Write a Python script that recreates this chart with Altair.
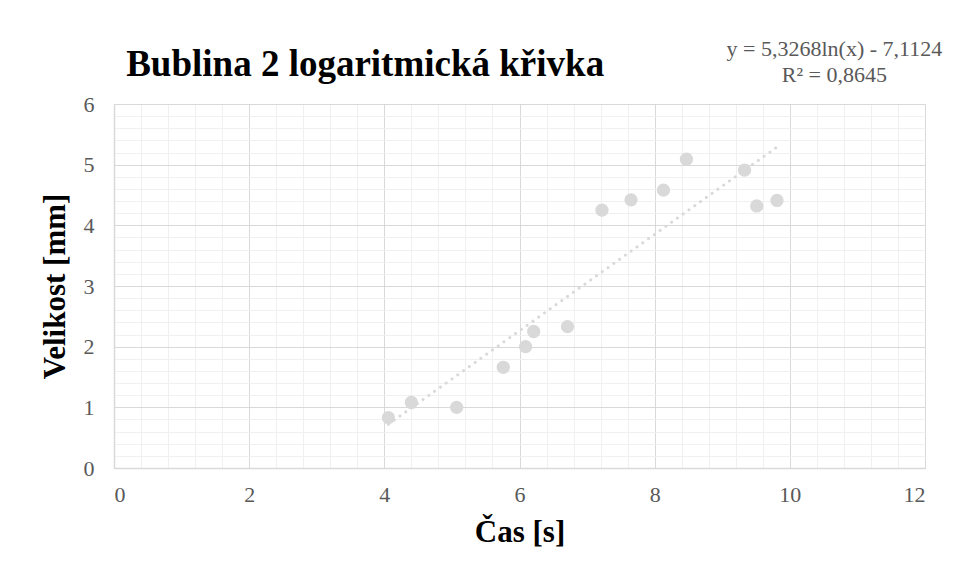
import altair as alt
import pandas as pd

# Data
cas = [4.06, 4.40, 5.07, 5.76, 6.09, 6.21, 6.71, 7.22, 7.65, 8.13, 8.47, 9.33, 9.51, 9.81]
velikost = [0.83, 1.08, 1.00, 1.66, 2.00, 2.25, 2.33, 4.25, 4.42, 4.58, 5.09, 4.91, 4.32, 4.41]

x_major = [0, 2, 4, 6, 8, 10, 12]
x_minor = [round(i * 0.4, 1) for i in range(31)]
y_major = [0, 1, 2, 3, 4, 5, 6]
y_minor = [round(i * 0.2, 1) for i in range(31)]

chart_title = ["Bublina 2 logaritmická křivka"]
title_x = [0.18]
title_y = [6.46]

eq_lines = ["y = 5,3268ln(x) - 7,1124", "R² = 0,8645"]
eq_x = [10.66, 10.66]
eq_y = [6.79, 6.37]

df = pd.DataFrame({"x": cas, "y": velikost})
eq_df = pd.DataFrame({"t": eq_lines, "x": eq_x, "y": eq_y})
title_df = pd.DataFrame({"t": chart_title, "x": title_x, "y": title_y})

FONT = "Liberation Serif"
GRAY = "#595959"
LIGHT = "#d9d9d9"

xs = alt.Scale(domain=[0, 12], nice=False, zero=False)
ys = alt.Scale(domain=[0, 6], nice=False, zero=False)

base = alt.Chart(df)

minor = base.mark_point(opacity=0).encode(
    x=alt.X("x:Q", scale=xs, axis=alt.Axis(orient="top", values=x_minor, grid=True,
                                          gridColor="#f0f0f0", gridWidth=1, labels=False,
                                          ticks=False, domain=False, title=None)),
    y=alt.Y("y:Q", scale=ys, axis=alt.Axis(orient="right", values=y_minor, grid=True,
                                          gridColor="#f0f0f0", gridWidth=1, labels=False,
                                          ticks=False, domain=False, title=None)),
)

points = base.mark_circle(size=177, color=LIGHT, opacity=1).encode(
    x=alt.X("x:Q", scale=xs, axis=alt.Axis(orient="bottom", values=x_major, grid=True,
                                          gridColor=LIGHT, gridWidth=1, ticks=False,
                                          domain=True, domainColor=LIGHT, domainWidth=1.5,
                                          labelFont=FONT, labelFontSize=22, labelColor=GRAY,
                                          labelPadding=16, title="Čas [s]", titleFont=FONT,
                                          titleFontSize=31, titleFontWeight="bold",
                                          titleColor="black", titlePadding=12)),
    y=alt.Y("y:Q", scale=ys, axis=alt.Axis(orient="left", values=y_major, grid=True,
                                          gridColor=LIGHT, gridWidth=1, ticks=False,
                                          domain=True, domainColor=LIGHT, domainWidth=1.5,
                                          labelFont=FONT, labelFontSize=22, labelColor=GRAY,
                                          labelPadding=20, title="Velikost [mm]", titleFont=FONT,
                                          titleFontSize=31, titleFontWeight="bold",
                                          titleColor="black", titlePadding=12)),
)

trend = base.transform_regression("x", "y", method="linear").mark_line(
    color=LIGHT, strokeWidth=3, strokeCap="round", strokeDash=[0.1, 7]
).encode(
    x=alt.X("x:Q", scale=xs, axis=None),
    y=alt.Y("y:Q", scale=ys, axis=None),
)

eq = alt.Chart(eq_df).mark_text(font=FONT, fontSize=22, color=GRAY, align="center",
                                baseline="alphabetic").encode(
    x=alt.X("x:Q", scale=xs, axis=None),
    y=alt.Y("y:Q", scale=ys, axis=None),
    text="t:N",
)

title = alt.Chart(title_df).mark_text(font=FONT, fontSize=37, fontWeight="bold", color="black",
                                      align="left", baseline="alphabetic").encode(
    x=alt.X("x:Q", scale=xs, axis=None),
    y=alt.Y("y:Q", scale=ys, axis=None),
    text="t:N",
)

chart = alt.layer(minor, trend, points, eq, title).resolve_axis(
    x="independent", y="independent"
).properties(
    width=811,
    height=364,
    padding={"left": 106, "top": 96, "right": 22, "bottom": 95},
    autosize=alt.AutoSizeParams(type="none"),
).configure_view(stroke=None).configure(background="white")

chart.save("out.html", embed_options={"renderer": "svg", "actions": False})
